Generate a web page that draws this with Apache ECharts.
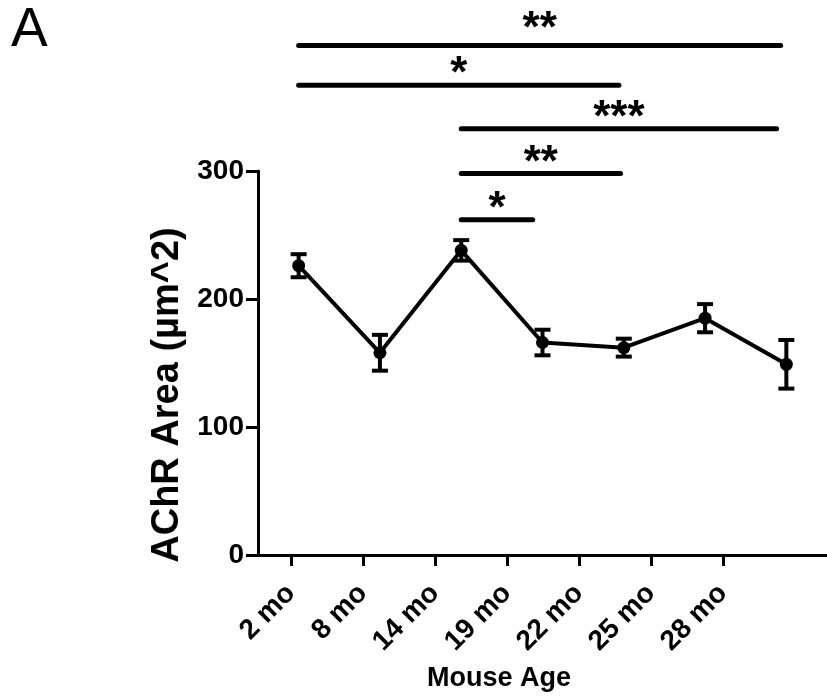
<html>
    <head>
        <meta charset="utf-8">
        <script src="https://cdn.jsdelivr.net/npm/echarts@6/dist/echarts.min.js"></script>
        <style>
            html, body { margin: 0; padding: 0; background: #fff; }
            #main { width: 827px; height: 700px; }
        </style>
    </head>
    <body>
        <div id="main"></div>
        <script>

        var ages = ['2 mo', '8 mo', '14 mo', '19 mo', '22 mo', '25 mo', '28 mo'];
        var areaMean = [226, 158, 238, 166, 162, 185, 149];
        var areaErr = [9, 14, 8, 10, 7, 11, 19];

        // significance brackets: start index, end index, height (y units), stars
        var sigFrom = [0, 0, 2, 2, 2];
        var sigTo = [5.93, 3.94, 5.88, 3.96, 2.88];
        var sigY = [398, 367, 333, 298, 262];
        var sigStars = ['**', '*', '***', '**', '*'];

        var font = 'Liberation Sans, Arial, sans-serif';
        var chart = echarts.init(document.getElementById('main'));

        var points = areaMean.map(function (v, i) { return [i, v]; });
        var errData = areaMean.map(function (v, i) { return [i, v - areaErr[i], v + areaErr[i]]; });
        var sigData = sigFrom.map(function (f, i) { return [f, sigTo[i], sigY[i]]; });

        chart.setOption({
            animation: false,
            title: {
                text: 'A',
                left: 6,
                top: -2,
                textStyle: { fontFamily: font, fontSize: 55, fontWeight: 'normal', color: '#000' }
            },
            grid: [
                { left: 258, top: 171, width: 574, height: 384 },
                { left: 255, top: 171, width: 504, height: 384 }
            ],
            xAxis: [{
                type: 'value',
                gridIndex: 0,
                min: -0.5,
                max: 6.5,
                axisLine: { show: true, lineStyle: { color: '#000', width: 3 } },
                axisTick: { show: false },
                axisLabel: { show: false },
                splitLine: { show: false }
            }, {
                type: 'category',
                gridIndex: 1,
                data: ages,
                axisLine: { show: false },
                axisTick: { show: true, alignWithLabel: true, length: 11, lineStyle: { color: '#000', width: 3 } },
                axisLabel: {
                    rotate: 45, margin: 34, color: '#000',
                    fontFamily: font, fontSize: 28, fontWeight: 'bold'
                },
                name: 'Mouse Age',
                nameLocation: 'middle',
                nameGap: 110,
                nameTextStyle: {
                    color: '#000', fontFamily: font, fontSize: 27, fontWeight: 'bold',
                    padding: [0, 16, 0, 0]
                }
            }],
            yAxis: [{
                type: 'value',
                gridIndex: 0,
                min: 0,
                max: 300,
                interval: 100,
                axisLine: { show: true, onZero: false, lineStyle: { color: '#000', width: 3 } },
                axisTick: { show: true, length: 12, lineStyle: { color: '#000', width: 3 } },
                axisLabel: { margin: 14, color: '#000', fontFamily: font, fontSize: 28, fontWeight: 'bold' },
                splitLine: { show: false },
                name: 'AChR Area (µm^2)',
                nameLocation: 'middle',
                nameGap: 55,
                nameTextStyle: {
                    color: '#000', fontFamily: font, fontSize: 38, fontWeight: 'bold',
                    padding: [0, 64, 0, 0]
                }
            }, {
                type: 'value',
                gridIndex: 1,
                show: false
            }],
            series: [{
                type: 'line',
                xAxisIndex: 0,
                yAxisIndex: 0,
                data: points,
                symbol: 'circle',
                symbolSize: 13,
                itemStyle: { color: '#000' },
                lineStyle: { color: '#000', width: 4 },
                z: 3
            }, {
                type: 'custom',
                xAxisIndex: 0,
                yAxisIndex: 0,
                data: errData,
                encode: { x: 0, y: [1, 2] },
                renderItem: function (params, api) {
                    var lo = api.coord([api.value(0), api.value(1)]);
                    var hi = api.coord([api.value(0), api.value(2)]);
                    var w = 8;
                    var st = { stroke: '#000', lineWidth: 4 };
                    return {
                        type: 'group',
                        children: [
                            { type: 'line', shape: { x1: lo[0], y1: lo[1], x2: hi[0], y2: hi[1] }, style: st },
                            { type: 'line', shape: { x1: lo[0] - w, y1: lo[1], x2: lo[0] + w, y2: lo[1] }, style: st },
                            { type: 'line', shape: { x1: hi[0] - w, y1: hi[1], x2: hi[0] + w, y2: hi[1] }, style: st }
                        ]
                    };
                },
                z: 2
            }, {
                type: 'custom',
                xAxisIndex: 0,
                yAxisIndex: 0,
                clip: false,
                data: sigData,
                encode: { x: [0, 1], y: 2 },
                renderItem: function (params, api) {
                    var a = api.coord([api.value(0), api.value(2)]);
                    var b = api.coord([api.value(1), api.value(2)]);
                    // the top bracket sits a little higher above its line
                    var gap = params.dataIndex === 0 ? 6 : 12;
                    return {
                        type: 'group',
                        children: [{
                            type: 'line',
                            shape: { x1: a[0], y1: a[1], x2: b[0], y2: b[1] },
                            style: { stroke: '#000', lineWidth: 5, lineCap: 'round' }
                        }, {
                            type: 'text',
                            x: (a[0] + b[0]) / 2,
                            y: a[1] + gap,
                            style: {
                                text: sigStars[params.dataIndex],
                                fill: '#000',
                                font: 'bold 44px ' + font,
                                align: 'center',
                                verticalAlign: 'bottom'
                            }
                        }]
                    };
                }
            }]
        });

        window.onresize = chart.resize;

        </script>
    </body>
</html>
